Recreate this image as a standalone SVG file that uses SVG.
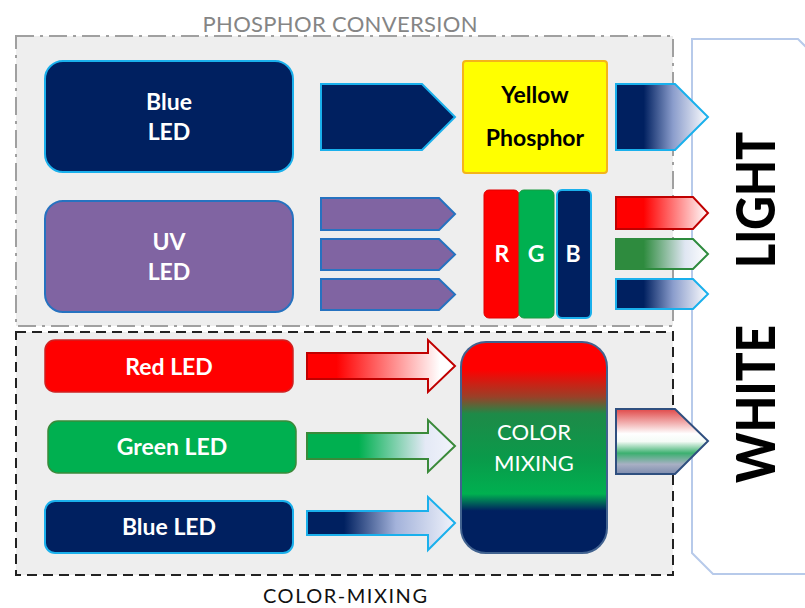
<svg xmlns="http://www.w3.org/2000/svg" width="805" height="608" viewBox="0 0 805 608">
<defs>
<style>
.lbl{font-family:Lato,"Liberation Sans",sans-serif;font-weight:bold;font-size:23px;fill:#fff;text-anchor:middle}
.dark{fill:#000}
.navy{fill:#002060;stroke:#1ab0ec;stroke-width:2}
.purple{fill:#8064a2;stroke:#2672c0;stroke-width:2}
</style>
<linearGradient id="navyFade" x1="0" y1="0" x2="1" y2="0">
<stop offset="0" stop-color="#002060"/><stop offset="0.3" stop-color="#002060"/><stop offset="0.62" stop-color="#8b9dcc"/><stop offset="1" stop-color="#ffffff"/>
</linearGradient>
<linearGradient id="redFade" x1="0" y1="0" x2="1" y2="0">
<stop offset="0" stop-color="#ff0000"/><stop offset="0.3" stop-color="#ff0000"/><stop offset="1" stop-color="#ffffff"/>
</linearGradient>
<linearGradient id="greenFade" x1="0" y1="0" x2="1" y2="0">
<stop offset="0" stop-color="#2e8b3e"/><stop offset="0.3" stop-color="#2e8b3e"/><stop offset="0.75" stop-color="#dfe6f2"/><stop offset="1" stop-color="#ffffff"/>
</linearGradient>
<linearGradient id="redArrow" x1="0" y1="0" x2="1" y2="0">
<stop offset="0" stop-color="#ff0000"/><stop offset="0.2" stop-color="#ff0000"/><stop offset="0.9" stop-color="#ffffff"/><stop offset="1" stop-color="#ffffff"/>
</linearGradient>
<linearGradient id="greenArrow" x1="0" y1="0" x2="1" y2="0">
<stop offset="0" stop-color="#00b050"/><stop offset="0.35" stop-color="#00b050"/><stop offset="0.8" stop-color="#e4e9f6"/><stop offset="1" stop-color="#f2f4fb"/>
</linearGradient>
<linearGradient id="blueArrow" x1="0" y1="0" x2="1" y2="0">
<stop offset="0" stop-color="#002060"/><stop offset="0.25" stop-color="#002060"/><stop offset="0.6" stop-color="#a3b2da"/><stop offset="1" stop-color="#f0f3fb"/>
</linearGradient>
<linearGradient id="mixFill" x1="0" y1="0" x2="0" y2="1">
<stop offset="0" stop-color="#ff0000"/><stop offset="0.13" stop-color="#ff0000"/><stop offset="0.26" stop-color="#9a4028"/><stop offset="0.34" stop-color="#1e8a48"/><stop offset="0.55" stop-color="#0a9a4a"/><stop offset="0.72" stop-color="#00b050"/><stop offset="0.8" stop-color="#002060"/><stop offset="1" stop-color="#002060"/>
</linearGradient>
<linearGradient id="outFill" x1="0" y1="0" x2="0" y2="1">
<stop offset="0" stop-color="#e04848"/><stop offset="0.38" stop-color="#ffffff"/><stop offset="0.5" stop-color="#f4fbf6"/><stop offset="0.68" stop-color="#3cb070"/><stop offset="0.85" stop-color="#a8b0c4"/><stop offset="1" stop-color="#7e8cae"/>
</linearGradient>
</defs>

<g id="white-light">
<path d="M692,39 L798,39 L830,71 L830,574 L713,574 L692,553 Z" fill="#ffffff" stroke="#b7caea" stroke-width="2"/>
<text transform="translate(775,200) rotate(-90)" text-anchor="middle" font-family="Lato,'Liberation Sans',sans-serif" font-weight="900" font-size="53" textLength="136" lengthAdjust="spacingAndGlyphs">LIGHT</text>
<text transform="translate(775,404) rotate(-90)" text-anchor="middle" font-family="Lato,'Liberation Sans',sans-serif" font-weight="900" font-size="53" textLength="158" lengthAdjust="spacingAndGlyphs">WHITE</text>
</g>

<g id="phosphor-conversion">
<rect x="16" y="36" width="657" height="290" fill="#eeeeee" stroke="#a0a0a0" stroke-width="2" stroke-dasharray="18,6,3,6"/>
<text x="340" y="32" text-anchor="middle" font-family="Lato,'Liberation Sans',sans-serif" font-size="22" fill="#858585" textLength="275" lengthAdjust="spacing">PHOSPHOR CONVERSION</text>
</g>

<g id="color-mixing">
<rect x="16" y="332" width="657" height="243" fill="#eeeeee" stroke="#222" stroke-width="2" stroke-dasharray="10,6"/>
<text x="345" y="603" text-anchor="middle" font-family="Lato,'Liberation Sans',sans-serif" font-size="20" fill="#111" textLength="164" lengthAdjust="spacing">COLOR-MIXING</text>
</g>

<g id="blue-led-1">
<rect x="45" y="61" width="248" height="111" rx="18" class="navy"/>
<text x="169" y="110" class="lbl">Blue</text>
<text x="169" y="140" class="lbl">LED</text>
</g>

<g id="yellow-phosphor">
<rect x="463" y="61" width="144" height="112" rx="3" fill="#ffff00" stroke="#f4b41a" stroke-width="2"/>
<text x="535" y="103" class="lbl dark">Yellow</text>
<text x="535" y="146" class="lbl dark">Phosphor</text>
</g>

<g id="uv-led">
<rect x="45" y="201" width="248" height="111" rx="18" class="purple"/>
<text x="169" y="250" class="lbl">UV</text>
<text x="169" y="280" class="lbl">LED</text>
</g>

<g id="rgb">
<rect x="484" y="190" width="35" height="128" rx="5" fill="#ff0000" stroke="#e00000" stroke-width="1"/>
<rect x="519" y="190" width="35" height="128" rx="5" fill="#00b050" stroke="#1a9a40" stroke-width="1"/>
<rect x="557" y="190" width="34" height="128" rx="5" class="navy"/>
<text x="502" y="262" class="lbl" font-size="21">R</text>
<text x="536" y="262" class="lbl" font-size="21">G</text>
<text x="573" y="262" class="lbl" font-size="21">B</text>
</g>

<g id="red-led">
<rect x="45" y="340" width="248" height="52" rx="10" fill="#ff0000" stroke="#d02020" stroke-width="1.5"/>
<text x="169" y="375" class="lbl">Red LED</text>
</g>

<g id="green-led">
<rect x="48" y="421" width="248" height="52" rx="10" fill="#00b050" stroke="#3a8a3a" stroke-width="1.5"/>
<text x="172" y="455" class="lbl">Green LED</text>
</g>

<g id="blue-led-2">
<rect x="45" y="501" width="248" height="52" rx="10" class="navy"/>
<text x="169" y="535" class="lbl">Blue LED</text>
</g>

<g id="color-mixer">
<rect x="461" y="342" width="146" height="211" rx="25" fill="url(#mixFill)" stroke="#41628f" stroke-width="2"/>
<text x="534" y="440" text-anchor="middle" font-family="Lato,'Liberation Sans',sans-serif" font-size="22" fill="#fff">COLOR</text>
<text x="534" y="471" text-anchor="middle" font-family="Lato,'Liberation Sans',sans-serif" font-size="22" fill="#fff">MIXING</text>
</g>

<g id="connectors">
<path d="M321,84 L422,84 L455,117 L422,150 L321,150 Z" class="navy"/>
<path d="M616,84 L675,84 L708,117 L675,150 L616,150 Z" fill="url(#navyFade)" stroke="#1ab0ec" stroke-width="2"/>
<path d="M321,198 L439,198 L455,214 L439,230 L321,230 Z" class="purple"/>
<path d="M321,239 L439,239 L455,254.5 L439,270 L321,270 Z" class="purple"/>
<path d="M321,279 L439,279 L455,294.5 L439,310 L321,310 Z" class="purple"/>
<path d="M616,197 L693,197 L708,213 L693,229 L616,229 Z" fill="url(#redFade)" stroke="#c00000" stroke-width="2"/>
<path d="M616,239 L693,239 L708,254 L693,269 L616,269 Z" fill="url(#greenFade)" stroke="#2e8b3e" stroke-width="2"/>
<path d="M616,279 L693,279 L708,294 L693,309 L616,309 Z" fill="url(#navyFade)" stroke="#1ab0ec" stroke-width="2"/>
<path d="M307,353 L428,353 L428,340 L455,366 L428,392 L428,379 L307,379 Z" fill="url(#redArrow)" stroke="#c00000" stroke-width="2"/>
<path d="M307,433 L428,433 L428,420 L455,446 L428,472 L428,459 L307,459 Z" fill="url(#greenArrow)" stroke="#3a8a3a" stroke-width="2"/>
<path d="M307,511 L428,511 L428,497 L455,523 L428,550 L428,535 L307,535 Z" fill="url(#blueArrow)" stroke="#1ab0ec" stroke-width="2"/>
<path d="M616,409 L675,409 L708,441 L675,474 L616,474 Z" fill="url(#outFill)" stroke="#2f4f7f" stroke-width="2"/>
</g>
</svg>
